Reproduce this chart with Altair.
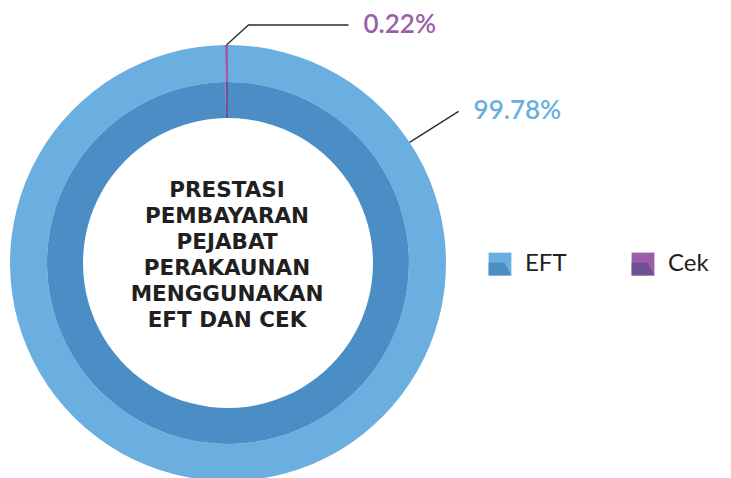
import math
import altair as alt
import pandas as pd

# ---- data ----
categories = ["EFT", "Cek"]
values = [99.78, 0.22]
pct_labels = ["99.78%", "0.22%"]
center_title = ["PRESTASI", "PEMBAYARAN", "PEJABAT", "PERAKAUNAN", "MENGGUNAKAN", "EFT DAN CEK"]

# ---- styles ----
LIGHT = ["#6aafe0", "#9b5fa9"]
DARK = ["#4b8dc5", "#6f4f96"]
TEXT = "#231f20"
FONT = "Lato"

W, H = 715, 470
CX, CY = 220, 255
R_HOLE, R_MID, R_OUT = 145, 181, 218

df = pd.DataFrame({
    "category": categories,
    "value": values,
    "idx": list(range(len(categories))),
    "cat2": [c + " " for c in categories],
})

total = sum(values)
# angle (deg, clockwise from 12 o'clock) where each label's leader starts
cum = 0
mid_angles = []
for v in values:
    mid_angles.append(360 * (cum + v / 2) / total)
    cum += v
leader_angles = [56.4, mid_angles[1]]          # EFT leader placed on the upper right
leader_offsets = [[(49, -31)], [(22, -20), (100, 0)]]

line_rows, text_rows = [], []
for i, cat in enumerate(categories):
    a = math.radians(leader_angles[i])
    x = CX + R_OUT * math.sin(a)
    y = CY - R_OUT * math.cos(a)
    line_rows.append({"grp": cat, "k": 0, "x": x, "y": y})
    for k, (dx, dy) in enumerate(leader_offsets[i], start=1):
        x, y = x + dx, y + dy
        line_rows.append({"grp": cat, "k": k, "x": x, "y": y})
    text_rows.append({"category": cat, "label": pct_labels[i], "x": x + 15, "y": y})

lines_df = pd.DataFrame(line_rows)
text_df = pd.DataFrame(text_rows)

xs = alt.Scale(domain=[0, W], range=[0, W])
ys = alt.Scale(domain=[0, H], range=[0, H])

legend_common = dict(
    orient="none", legendX=480, legendY=244, direction="horizontal", title=None,
    labelFont=FONT, labelFontSize=24, labelColor=TEXT, labelOffset=13,
    columnPadding=64, symbolSize=520, padding=0, symbolStrokeWidth=0,
)

base = alt.Chart(df)

outer = base.mark_arc(radius=R_OUT, radius2=R_MID).encode(
    theta=alt.Theta("value:Q", stack=True),
    order=alt.Order("idx:Q"),
    color=alt.Color("category:N", scale=alt.Scale(domain=categories, range=LIGHT),
                    legend=alt.Legend(symbolType="square", **legend_common)),
    x=alt.value(CX), y=alt.value(CY),
)

inner = base.mark_arc(radius=R_MID, radius2=R_HOLE).encode(
    theta=alt.Theta("value:Q", stack=True),
    order=alt.Order("idx:Q"),
    fill=alt.Fill("cat2:N", scale=alt.Scale(domain=[c + " " for c in categories], range=DARK),
                  legend=alt.Legend(symbolType="M-1,-0.1L0.4,-0.1L1,1L-1,1Z",
                                    labelOpacity=0, labelExpr="trim(datum.label)",
                                    **legend_common)),
    x=alt.value(CX), y=alt.value(CY),
)

leaders = alt.Chart(lines_df).mark_line(color="#2b2b2b", strokeWidth=1.3).encode(
    x=alt.X("x:Q", scale=xs, axis=None),
    y=alt.Y("y:Q", scale=ys, axis=None),
    detail="grp:N",
    order="k:Q",
)

pct_text = alt.Chart(text_df).mark_text(
    align="left", baseline="middle", font=FONT, fontSize=26, fontWeight=600,
).encode(
    x=alt.X("x:Q", scale=xs, axis=None),
    y=alt.Y("y:Q", scale=ys, axis=None),
    text="label:N",
    color=alt.Color("category:N", scale=alt.Scale(domain=categories, range=LIGHT), legend=None),
)

title_text = alt.Chart(pd.DataFrame({"t": [center_title]})).mark_text(
    align="center", baseline="alphabetic", font="DejaVu Sans", fontSize=21.5, fontWeight="bold",
    lineHeight=26, color=TEXT,
).encode(
    x=alt.value(CX - 1), y=alt.value(CY - 66),
    text="t",
)

chart = alt.layer(outer, inner, leaders, pct_text, title_text).properties(
    width=W, height=H, autosize=alt.AutoSizeParams(type="none"), padding=0,
).configure_view(stroke=None)

chart.save("out.html", embed_options={"renderer": "svg", "actions": False})
